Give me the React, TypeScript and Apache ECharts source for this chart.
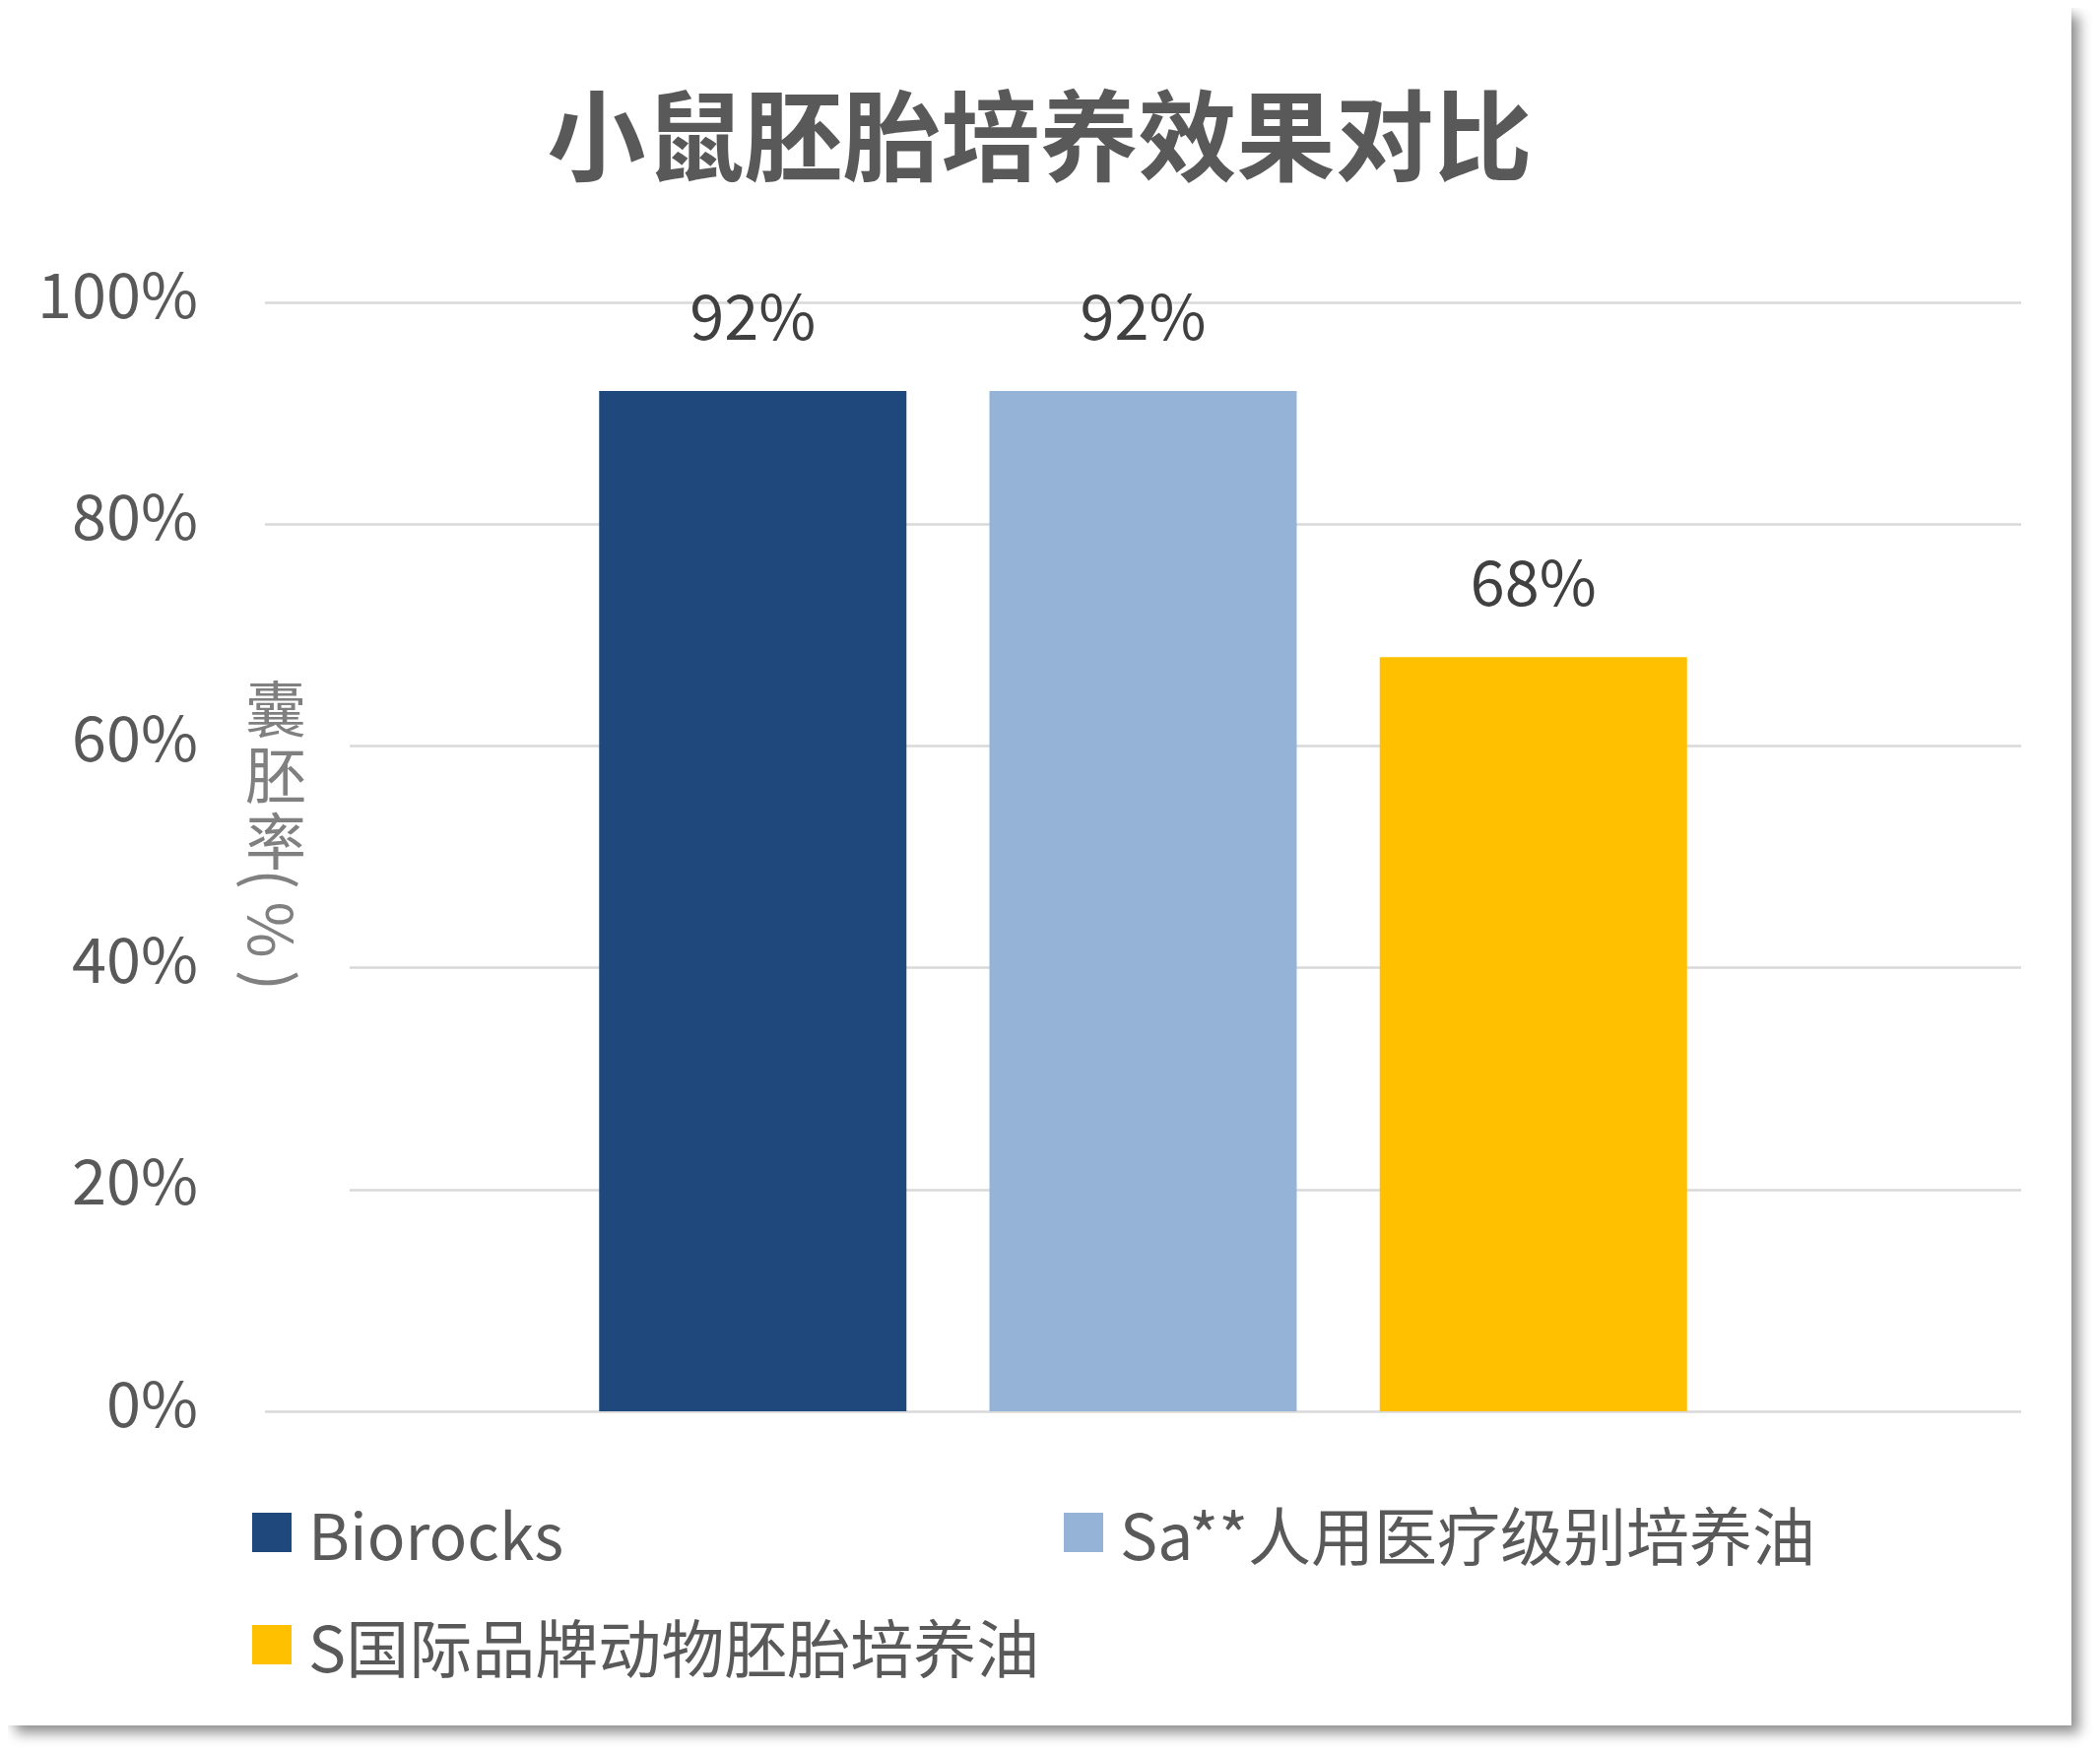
import React, { useEffect, useRef } from "react";
import * as echarts from "echarts";

const categories = ["小鼠胚胎"];
const seriesNames = ["Biorocks", "Sa**人用医疗级别培养油", "S国际品牌动物胚胎培养油"];
const biorocksValues = [92];
const saValues = [92];
const sIntlValues = [68];
const seriesColors = ["#1F497D", "#95B3D7", "#FFC000"];
const titleText = "小鼠胚胎培养效果对比";
const yAxisNameChars = ["囊", "胚", "率"];
const yAxisNameUnit = "(\u2009%\u2009)";

const FONT = '"Noto Sans CJK SC", "Noto Sans", sans-serif';

export default function App() {
  const ref = useRef<HTMLDivElement>(null);

  useEffect(() => {
    if (!ref.current) return;
    const chart = echarts.init(ref.current, null, { renderer: "svg" });
    const values = [biorocksValues, saValues, sIntlValues];

    const legendBase = {
      icon: "rect",
      itemWidth: 40,
      itemHeight: 40,
      selectedMode: false,
      textStyle: {
        fontFamily: FONT,
        fontSize: 64,
        color: "#595959",
        padding: [0, 0, 14, 12],
      },
    };

    const nameChars = yAxisNameChars.map((ch, i) => ({
      type: "text",
      z: 101,
      x: 272,
      y: 709 + i * 67,
      style: {
        text: ch,
        fontFamily: FONT,
        fontSize: 62,
        fill: "#808080",
        align: "center",
        verticalAlign: "middle",
      },
    }));

    chart.setOption({
      animation: false,
      backgroundColor: "#ffffff",
      textStyle: { fontFamily: FONT },
      title: {
        text: titleText,
        left: "center",
        top: 69,
        textStyle: {
          fontFamily: FONT,
          fontSize: 100,
          fontWeight: "bold",
          color: "#595959",
        },
      },
      legend: [
        { ...legendBase, data: [seriesNames[0]], left: 243, top: 1511 },
        { ...legendBase, data: [seriesNames[1]], left: 1067, top: 1511 },
        { ...legendBase, data: [seriesNames[2]], left: 243, top: 1625 },
      ],
      grid: { left: 261, right: 51, top: 299, bottom: 319 },
      xAxis: {
        type: "category",
        data: categories,
        axisLine: { show: false },
        axisTick: { show: false },
        axisLabel: { show: false },
        splitLine: { show: false },
      },
      yAxis: {
        type: "value",
        min: 0,
        max: 100,
        interval: 20,
        axisLine: { show: false },
        axisTick: { show: false },
        axisLabel: {
          formatter: "{value}%",
          fontFamily: FONT,
          fontSize: 63,
          color: "#595959",
          margin: 68,
          verticalAlign: "bottom",
          lineHeight: 24,
        },
        splitLine: { show: true, lineStyle: { color: "#D9D9D9", width: 2.5 } },
      },
      series: seriesNames.map((name, i) => ({
        name,
        type: "bar",
        data: values[i],
        barWidth: 312,
        barGap: "27%",
        itemStyle: { color: seriesColors[i] },
        label: {
          show: true,
          position: "top",
          distance: 48,
          formatter: "{c}%",
          fontFamily: FONT,
          fontSize: 63,
          color: "#404040",
        },
      })),
      graphic: [
        {
          type: "rect",
          z: 100,
          shape: { x: 261, y: 540, width: 86, height: 875 },
          style: { fill: "#ffffff" },
        },
        ...nameChars,
        {
          type: "text",
          z: 101,
          x: 271,
          y: 936,
          rotation: -Math.PI / 2,
          style: {
            text: yAxisNameUnit,
            fontFamily: FONT,
            fontSize: 62,
            fill: "#808080",
            align: "center",
            verticalAlign: "middle",
          },
        },
      ],
    });

    return () => chart.dispose();
  }, []);

  return (
    <div style={{ paddingRight: 40, paddingBottom: 40, width: 2095 }}>
      <div
        style={{
          width: 2095,
          height: 1744,
          background: "#ffffff",
          boxShadow: "8px 8px 12px rgba(0,0,0,0.42), 0 0 6px rgba(0,0,0,0.07)",
        }}
      >
        <div ref={ref} style={{ width: 2095, height: 1744 }} />
      </div>
    </div>
  );
}
